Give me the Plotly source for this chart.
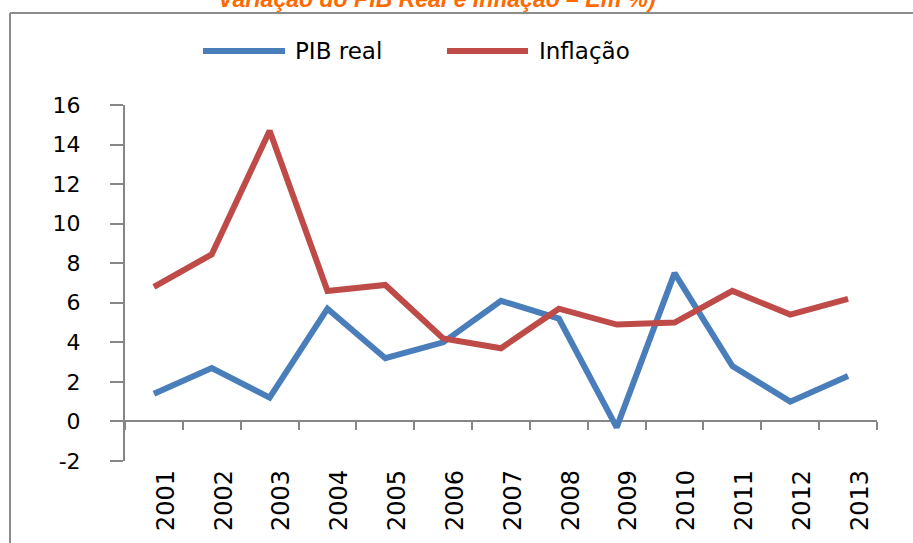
import plotly.graph_objects as go

years = ["2001", "2002", "2003", "2004", "2005", "2006", "2007",
         "2008", "2009", "2010", "2011", "2012", "2013"]
pib_real = [1.4, 2.7, 1.2, 5.7, 3.2, 4.0, 6.1, 5.2, -0.3, 7.5, 2.8, 1.0, 2.3]
inflacao = [6.8, 8.45, 14.7, 6.6, 6.9, 4.2, 3.7, 5.7, 4.9, 5.0, 6.6, 5.4, 6.2]
y_ticks = [-2, 0, 2, 4, 6, 8, 10, 12, 14, 16]
y_tick_labels = ["-2", "0", "2", "4", "6", "8", "10", "12", "14", "16"]

series_names = ["PIB real", "Inflação"]
colors = ["#4A7EBB", "#BE4B48"]
title_text = "Variação do PIB Real e Inflação – Em %)"

W, H = 913, 543
L, R, T, B = 125, 36, 105, 82
pw, ph = W - L - R, H - T - B

def px_x(p):
    return (p - L) / pw

def px_y(p):
    return (H - B - p) / ph

fig = go.Figure()
for name, vals, col in zip(series_names, [pib_real, inflacao], colors):
    fig.add_trace(go.Scatter(x=years, y=vals, name=name, mode="lines",
                             line=dict(color=col, width=6),
                             showlegend=False))

axis_gray = "#868686"
fig.update_layout(
    width=W, height=H,
    margin=dict(l=L, r=R, t=T, b=B),
    paper_bgcolor="white", plot_bgcolor="white",
    font=dict(family="DejaVu Sans", color="black"),
    xaxis=dict(
        type="category", categoryorder="array", categoryarray=years,
        range=[-0.5, len(years) - 0.5],
        anchor="free", position=2 / 18,
        showline=True, linecolor=axis_gray, linewidth=2,
        ticks="outside", ticklen=8, tickwidth=2, tickcolor=axis_gray,
        tickson="boundaries", tickangle=-90,
        tickfont=dict(size=24, family="DejaVu Sans", color="black"),
        ticklabelstandoff=38, ticklabelshift=12,
        showgrid=False, zeroline=False, layer="below traces",
    ),
    yaxis=dict(
        range=[-2, 16], tickvals=y_ticks, ticktext=y_tick_labels,
        showline=True, linecolor=axis_gray, linewidth=2,
        ticks="outside", ticklen=13, tickwidth=2, tickcolor=axis_gray,
        tickfont=dict(size=22, family="DejaVu Sans", color="black"),
        ticklabelstandoff=25,
        showgrid=False, zeroline=False, layer="below traces",
    ),
)

# outer chart border (left and top)
fig.add_shape(type="line", xref="paper", yref="paper",
              x0=px_x(10), x1=px_x(930), y0=px_y(13), y1=px_y(13),
              line=dict(color="#8C8C8C", width=2))
fig.add_shape(type="line", xref="paper", yref="paper",
              x0=px_x(10), x1=px_x(10), y0=px_y(13), y1=px_y(560),
              line=dict(color="#8C8C8C", width=2))

# title (clipped at the top edge, as in the reference)
fig.add_annotation(text="<b><i>" + title_text + "</i></b>", xref="paper", yref="paper",
                   x=px_x(437), y=px_y(-1), xanchor="center", yanchor="middle",
                   showarrow=False,
                   font=dict(family="Liberation Sans", size=23, color="#FF6A00"))

# custom legend
leg = [(203, 285, 293), (447, 528, 537)]
for (x0, x1, tx), name, col in zip(leg, series_names, colors):
    fig.add_shape(type="line", xref="paper", yref="paper",
                  x0=px_x(x0), x1=px_x(x1), y0=px_y(51), y1=px_y(51),
                  line=dict(color=col, width=6))
    fig.add_annotation(text=name, xref="paper", yref="paper",
                       x=px_x(tx), y=px_y(51), xanchor="left", yanchor="middle",
                       showarrow=False,
                       font=dict(family="DejaVu Sans", size=23, color="black"))

fig.write_html("out.html", config={"displayModeBar": False},
               post_script="document.body.style.margin='0px';")
